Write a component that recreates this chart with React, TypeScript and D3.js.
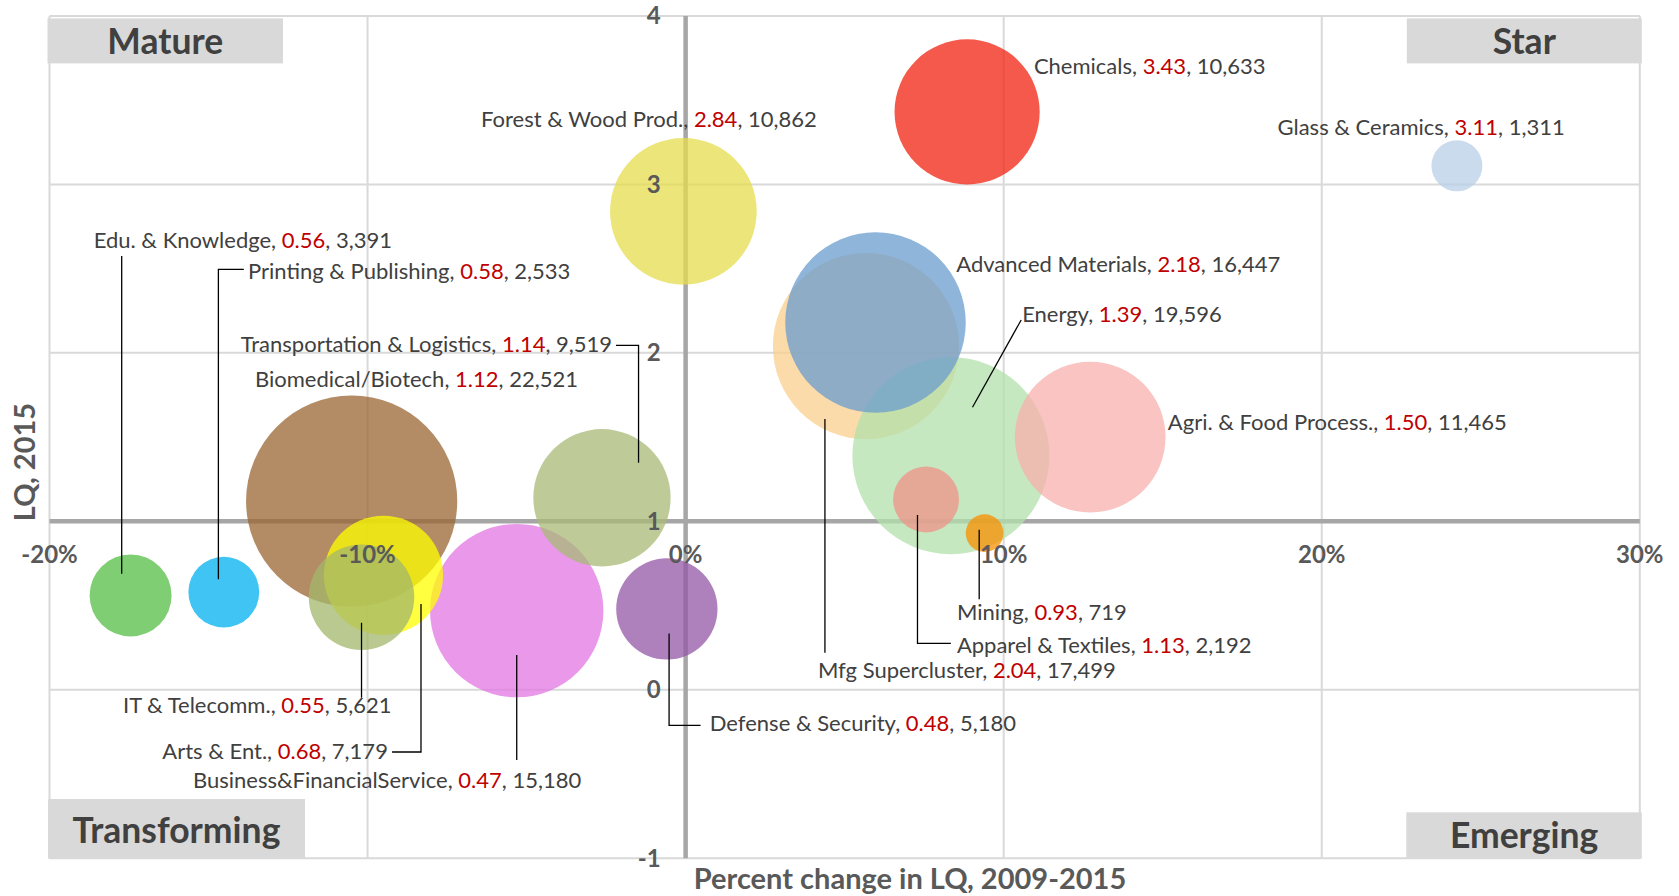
import React from "react";
import * as d3 from "d3";

// ---------- data (draw order: back to front) ----------
const clusters = [
  "Biomedical/Biotech",
  "Business&FinancialService",
  "Arts & Ent.",
  "IT & Telecomm.",
  "Transportation & Logistics",
  "Edu. & Knowledge",
  "Printing & Publishing",
  "Defense & Security",
  "Forest & Wood Prod.",
  "Mfg Supercluster",
  "Energy",
  "Advanced Materials",
  "Agri. & Food Process.",
  "Apparel & Textiles",
  "Mining",
  "Chemicals",
  "Glass & Ceramics",
];
// Percent change in LQ, 2009-2015 (x)
const pctChange = [-10.5, -5.31, -9.5, -10.19, -2.63, -17.45, -14.52, -0.59, -0.07, 5.67, 8.34, 5.97, 12.72, 7.56, 9.4, 8.85, 24.25];
// LQ, 2015 (y)
const lq2015 = [1.12, 0.47, 0.68, 0.55, 1.14, 0.56, 0.58, 0.48, 2.84, 2.04, 1.39, 2.18, 1.5, 1.13, 0.93, 3.43, 3.11];
// Employment (bubble size)
const employment = [22521, 15180, 7179, 5621, 9519, 3391, 2533, 5180, 10862, 17499, 19596, 16447, 11465, 2192, 719, 10633, 1311];

const xTicks = [-20, -10, 0, 10, 20, 30];
const yTicks = [-1, 0, 1, 2, 3, 4];
const quadrants = ["Mature", "Star", "Transforming", "Emerging"];
const xTitle = "Percent change in LQ, 2009-2015";
const yTitle = "LQ, 2015";

// ---------- styles ----------
const palette = [
  "#9a6632", "#e376e3", "#ffff00", "#a3b76a", "#a8ba75", "#56be44", "#00b0f0", "#9356a6",
  "#e6dc4e", "#fbcf8e", "#b3e0ab", "#6a9cce", "#f7b0ac", "#ef938a", "#f89000", "#f2220f", "#b7cfe6",
];

// ---------- label layout (data units: [x %, LQ], anchor) ----------
const labelPos: [number, number, string][] = [
  [-13.54, 1.795, "start"],
  [-15.49, -0.581, "start"],
  [-9.36, -0.411, "end"],
  [-17.69, -0.136, "start"],
  [-2.31, 2.007, "end"],
  [-18.61, 2.62, "start"],
  [-13.76, 2.436, "start"],
  [0.76, -0.245, "start"],
  [-6.43, 3.339, "start"],
  [4.16, 0.068, "start"],
  [10.58, 2.185, "start"],
  [8.51, 2.481, "start"],
  [15.16, 1.542, "start"],
  [8.53, 0.218, "start"],
  [8.53, 0.414, "start"],
  [10.95, 3.658, "start"],
  [18.61, 3.293, "start"],
];

// leader lines (data units)
const leaders: [number, number][][] = [
  [],
  [[-5.31, 0.206], [-5.31, -0.417]],
  [[-8.32, 0.51], [-8.32, -0.369], [-9.23, -0.369]],
  [[-10.19, 0.398], [-10.19, -0.047]],
  [[-2.19, 2.045], [-1.48, 2.045], [-1.48, 1.348]],
  [[-17.73, 2.575], [-17.73, 0.689]],
  [[-13.89, 2.496], [-14.69, 2.496], [-14.69, 0.656]],
  [[-0.52, 0.335], [-0.52, -0.211], [0.47, -0.211]],
  [],
  [[4.38, 1.607], [4.38, 0.22]],
  [[10.55, 2.195], [9.02, 1.677]],
  [],
  [],
  [[7.29, 1.037], [7.29, 0.276], [8.34, 0.276]],
  [[9.23, 0.95], [9.23, 0.537]],
  [],
  [],
];

const W = 1679;
const H = 896;
const FONT = "Lato, 'Open Sans', sans-serif";

export default function App() {
  const x = d3.scaleLinear().domain([-20, 30]).range([49.5, 1639.8]);
  const y = d3.scaleLinear().domain([-1, 4]).range([858.3, 15.9]);
  const r = d3.scaleSqrt().domain([0, d3.max(employment) as number]).range([0, 105.6]);
  const fmtPct = (v: number) => `${v}%`;
  const fmtLQ = d3.format(".2f");
  const fmtEmp = d3.format(",");
  const line = d3.line<[number, number]>().x((d) => x(d[0])).y((d) => y(d[1]));

  const [x0, x1] = x.range();
  const [yb, yt] = y.range();

  const boxes = [
    { x: x0 - 2, y: yt + 2.5, w: 235.5, h: 45, tx: 54 },
    { x: x1 - 233, y: yt + 2.5, w: 235, h: 45, tx: 54 },
    { x: x0 - 1.5, y: yb - 59.3, w: 257, h: 59.7, tx: 843 },
    { x: x1 - 233.5, y: yb - 46, w: 235.5, h: 46.4, tx: 848 },
  ];

  return (
    <div style={{ position: "fixed", left: 0, top: 0, width: W, height: H, background: "#fff" }}>
      <svg width={W} height={H} style={{ display: "block", fontFamily: FONT }}>
        {/* gridlines */}
        {xTicks.map((t) => (
          <line key={"gx" + t} x1={x(t)} x2={x(t)} y1={yt} y2={yb} stroke="#d9d9d9" strokeWidth={2} />
        ))}
        {yTicks.map((t) => (
          <line key={"gy" + t} x1={x0} x2={x1} y1={y(t)} y2={y(t)} stroke="#d9d9d9" strokeWidth={2} />
        ))}
        {/* axes crossing at (0%, 1) */}
        <line x1={x(0)} x2={x(0)} y1={yt} y2={yb} stroke="#a6a6a6" strokeWidth={4.5} />
        <line x1={x0} x2={x1} y1={y(1)} y2={y(1)} stroke="#a6a6a6" strokeWidth={4.5} />

        {/* bubbles */}
        {clusters.map((c, i) => (
          <circle key={c} cx={x(pctChange[i])} cy={y(lq2015[i])} r={r(employment[i])} fill={palette[i]} fillOpacity={0.75} />
        ))}

        {/* tick labels */}
        {yTicks.map((t) => (
          <text key={"ty" + t} x={x(0) - 25} y={y(t)} dy="0.35em" textAnchor="end" fontSize={24} fontWeight="bold" fill="#595959">
            {t}
          </text>
        ))}
        {xTicks.map((t) => (
          <text key={"tx" + t} x={x(t)} y={y(1) + 33} dy="0.35em" textAnchor="middle" fontSize={24} fontWeight="bold" fill="#595959">
            {fmtPct(t)}
          </text>
        ))}

        {/* leader lines */}
        {leaders.map((pts, i) =>
          pts.length ? <path key={"l" + i} d={line(pts) as string} fill="none" stroke="#000" strokeWidth={1.3} /> : null
        )}

        {/* data labels */}
        {clusters.map((c, i) => (
          <text key={"lab" + c} x={x(labelPos[i][0])} y={y(labelPos[i][1])} textAnchor={labelPos[i][2] as any} fontSize={22} fill="#404040">
            <tspan>{c}, </tspan>
            <tspan fill="#c00000">{fmtLQ(lq2015[i])}</tspan>
            <tspan>, {fmtEmp(employment[i])}</tspan>
          </text>
        ))}

        {/* quadrant labels */}
        {quadrants.map((q, i) => (
          <g key={q}>
            <rect x={boxes[i].x} y={boxes[i].y} width={boxes[i].w} height={boxes[i].h} fill="#d9d9d9" />
            <text x={boxes[i].x + boxes[i].w / 2} y={boxes[i].tx} textAnchor="middle" fontSize={35.5} fontWeight="bold" fill="#404040">
              {q}
            </text>
          </g>
        ))}

        {/* axis titles */}
        <text x={910} y={889} textAnchor="middle" fontSize={29} fontWeight="bold" fill="#595959">
          {xTitle}
        </text>
        <text transform={`translate(35,${462}) rotate(-90)`} textAnchor="middle" fontSize={29} fontWeight="bold" fill="#595959">
          {yTitle}
        </text>
      </svg>
    </div>
  );
}
